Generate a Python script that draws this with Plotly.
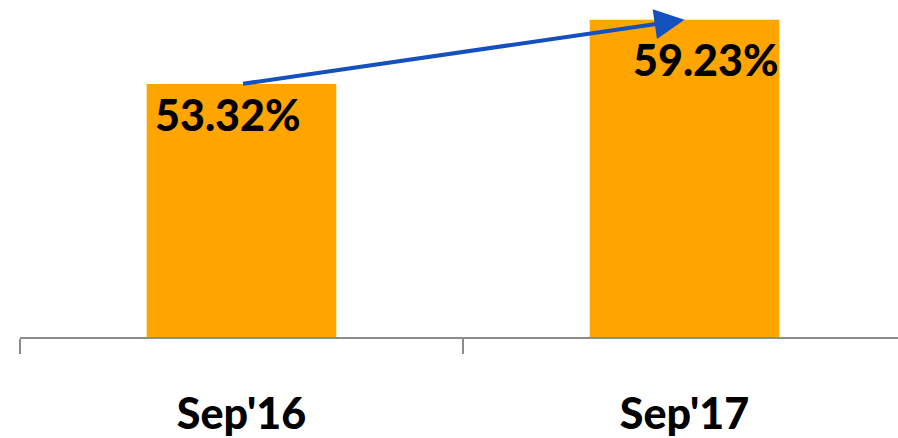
import plotly.graph_objects as go

# Share values by period
periods = ["Sep'16", "Sep'17"]
shares = [53.32, 59.23]
value_labels = ["53.32%", "59.23%"]

BAR_COLOR = "#FFA500"
ARROW_COLOR = "#1450BE"
FONT = "Lato"

fig = go.Figure(
    go.Bar(
        x=periods,
        y=shares,
        width=0.428,
        marker=dict(color=BAR_COLOR, line=dict(width=0)),
        hoverinfo="skip",
    )
)

# Value labels inside the bars (offset per bar)
label_offsets = [(-14, -31), (21, -40)]
for period, val, txt, (dx, dy) in zip(periods, shares, value_labels, label_offsets):
    fig.add_annotation(
        x=period, y=val, text=txt, showarrow=False,
        xanchor="center", yanchor="middle", xshift=dx, yshift=dy,
        font=dict(family=FONT, size=43, color="black", weight=900),
    )

# Growth arrow from the first bar top to the second bar top
fig.add_annotation(
    x=periods[1], y=shares[1], ax=periods[0], ay=shares[0],
    xref="x", yref="y", axref="x", ayref="y",
    showarrow=True, text="", arrowhead=2, arrowsize=1.5,
    arrowwidth=4, arrowcolor=ARROW_COLOR, standoff=0,
)

fig.update_layout(
    width=898, height=438,
    margin=dict(l=20, r=0, t=0, b=101),
    paper_bgcolor="white", plot_bgcolor="white",
    showlegend=False,
    xaxis=dict(
        type="category",
        range=[-0.5, -0.5 + 878 / 443],
        showline=True, linecolor="#8c8c8c", linewidth=1.5,
        ticks="outside", tickson="boundaries", ticklen=15,
        tickcolor="#8c8c8c", tickwidth=1.5,
        tickfont=dict(family=FONT, size=43, color="black", weight=900),
        ticklabelstandoff=39,
        showgrid=False, zeroline=False,
    ),
    yaxis=dict(
        range=[30, 61.06],
        visible=False, showgrid=False, zeroline=False,
    ),
)

fig.write_html("out.html")
